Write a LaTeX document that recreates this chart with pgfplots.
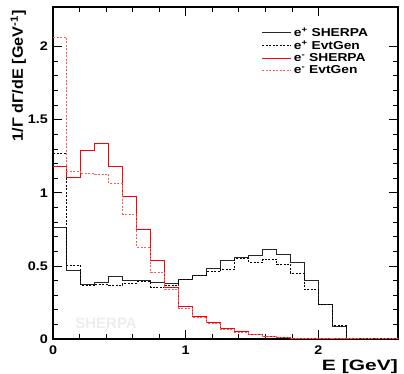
\documentclass[border=0pt]{standalone}
\usepackage{fontspec}
\setmainfont{Liberation Sans}
\newfontfamily\tickf[FakeStretch=1.15]{Liberation Sans}
\newfontfamily\legf[FakeStretch=1.2]{Liberation Sans}
\newfontfamily\xlabf[FakeStretch=1.4]{Liberation Sans}
\newfontfamily\ylabf[FakeStretch=1.08]{Liberation Sans}
\usepackage{pgfplots}
\pgfplotsset{compat=1.18}
\begin{document}
\begin{tikzpicture}
\begin{axis}[
  at={(0,0)}, anchor=south west,
  scale only axis, width=345pt, height=332pt,
  xmin=0, xmax=2.6, ymin=0, ymax=2.27,
  axis line style={line width=1.1pt},
  tick align=inside, major tick length=9pt, minor tick length=5pt,
  every tick/.style={black, line width=0.6pt},
  xtick={0,1,2}, minor x tick num=4,
  ytick={0,0.5,1,1.5,2}, minor y tick num=4,
  /pgf/number format/assume math mode=true,
  tick label style={font=\fontsize{12.5}{14}\tickf\bfseries},
  yticklabel style={anchor=east, inner sep=0pt, xshift=-5pt},
  xticklabel style={anchor=base, inner sep=0pt, yshift=-16pt},
  xlabel={E [GeV]},
  xlabel style={at={(axis description cs:1,-0.0955)}, anchor=base east, inner sep=0pt, font=\fontsize{15}{16}\xlabf\bfseries},
  ylabel={1/Γ dΓ/dE [GeV\textsuperscript{-1}]},
  ylabel style={at={(axis description cs:-0.087,0.99)}, anchor=base east, inner sep=0pt, font=\fontsize{15}{16}\ylabf\bfseries},
  legend style={at={(axis description cs:0.605,0.945)}, anchor=north west, draw=none, fill=none,
    font=\fontsize{11.5}{12}\legf\bfseries, inner sep=0pt, row sep=-1.5pt, cells={anchor=west}},
  legend image code/.code={\path (0pt,0pt) -- (29pt,0pt); \draw[#1] (0pt,0pt) -- (22pt,0pt);},
  every axis plot/.append style={const plot mark left, line width=1pt},
]
% e+ SHERPA
\addplot[black!85] coordinates {
(0,0.765) (0.1055,0.466) (0.211,0.370) (0.3165,0.388) (0.422,0.428) (0.5275,0.397)
(0.633,0.402) (0.7385,0.384) (0.844,0.379) (0.9495,0.404) (1.055,0.433) (1.1605,0.482)
(1.266,0.536) (1.3715,0.557) (1.477,0.573) (1.5825,0.610) (1.688,0.580) (1.7935,0.520)
(1.899,0.400) (2.0045,0.236) (2.11,0.086) (2.2155,0.006) (2.321,0.002) (2.4265,0.001)
(2.532,0.0) (2.6375,0.0)};
\addlegendentry{e\textsuperscript{+} SHERPA}
% e+ EvtGen
\addplot[black, dash pattern=on 2pt off 1.5pt] coordinates {
(0,1.27) (0.1055,0.500) (0.211,0.368) (0.3165,0.372) (0.422,0.368) (0.5275,0.382)
(0.633,0.390) (0.7385,0.354) (0.844,0.368) (0.9495,0.409) (1.055,0.432) (1.1605,0.460)
(1.266,0.477) (1.3715,0.550) (1.477,0.525) (1.5825,0.546) (1.688,0.510) (1.7935,0.450)
(1.899,0.336) (2.0045,0.236) (2.11,0.091) (2.2155,0.004) (2.321,0.001) (2.4265,0.0)
(2.532,0.0) (2.6375,0.0)};
\addlegendentry{e\textsuperscript{+} EvtGen}
% e- SHERPA
\addplot[red] coordinates {
(0,1.180) (0.1055,1.107) (0.211,1.286) (0.3165,1.338) (0.422,1.176) (0.5275,0.975)
(0.633,0.751) (0.7385,0.539) (0.844,0.354) (0.9495,0.221) (1.055,0.155) (1.1605,0.112)
(1.266,0.071) (1.3715,0.048) (1.477,0.030) (1.5825,0.016) (1.688,0.010) (1.7935,0.006)
(1.899,0.004) (2.0045,0.003) (2.11,0.002) (2.2155,0.0) (2.321,0.0) (2.4265,0.0)
(2.532,0.0) (2.6375,0.0)};
\addlegendentry{e\textsuperscript{-} SHERPA}
% e- EvtGen
\addplot[red!65, dash pattern=on 2pt off 1.5pt] coordinates {
(0,2.060) (0.1055,1.144) (0.211,1.130) (0.3165,1.125) (0.422,1.064) (0.5275,0.854)
(0.633,0.625) (0.7385,0.454) (0.844,0.336) (0.9495,0.208) (1.055,0.148) (1.1605,0.105)
(1.266,0.064) (1.3715,0.045) (1.477,0.028) (1.5825,0.014) (1.688,0.008) (1.7935,0.005)
(1.899,0.003) (2.0045,0.002) (2.11,0.001) (2.2155,0.0) (2.321,0.0) (2.4265,0.0)
(2.532,0.0) (2.6375,0.0)};
\addlegendentry{e\textsuperscript{-} EvtGen}
\node[text=black!7, font=\fontsize{15}{15}\selectfont\bfseries] at (axis cs:0.4,0.106) {SHERPA};
\end{axis}
\pgfresetboundingbox
\path[use as bounding box] (-53pt,-35pt) rectangle (351pt,339pt);
\end{tikzpicture}
\end{document}
